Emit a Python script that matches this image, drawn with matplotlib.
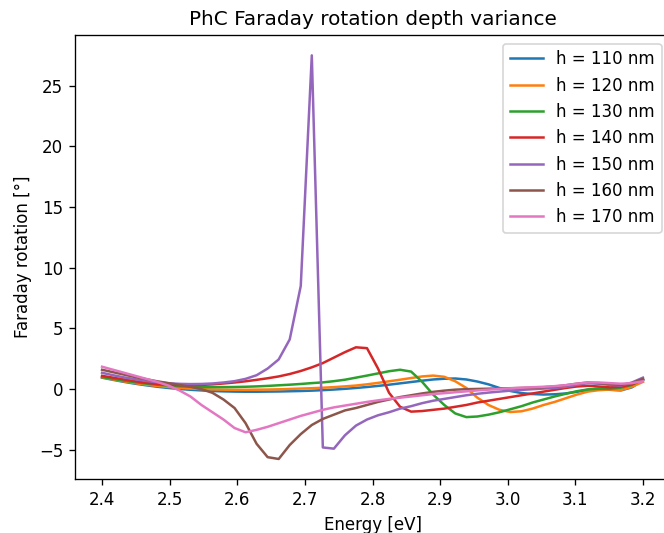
import numpy as np
import matplotlib
matplotlib.use("Agg")
import matplotlib.pyplot as plt

# photon energy grid (50 samples)
energy = np.linspace(2.4, 3.2, 50)

# Faraday rotation [deg] per slab depth
h110 = [0.95, 0.77, 0.60, 0.45, 0.32, 0.20, 0.10, 0.02, -0.05, -0.10,
        -0.15, -0.18, -0.20, -0.21, -0.21, -0.20, -0.19, -0.17, -0.15, -0.12,
        -0.08, -0.03, 0.03, 0.10, 0.18, 0.27, 0.37, 0.48, 0.59, 0.70,
        0.80, 0.86, 0.88, 0.80, 0.63, 0.40, 0.10, -0.15, -0.32, -0.40,
        -0.44, -0.42, -0.35, -0.22, -0.05, 0.05, -0.05, -0.10, 0.15, 0.75]
h120 = [0.98, 0.80, 0.64, 0.50, 0.37, 0.27, 0.18, 0.11, 0.05, 0.01,
        -0.02, -0.04, -0.05, -0.05, -0.04, -0.03, -0.01, 0.02, 0.05, 0.08,
        0.12, 0.17, 0.23, 0.30, 0.40, 0.52, 0.65, 0.78, 0.92, 1.05,
        1.12, 1.02, 0.65, 0.10, -0.70, -1.30, -1.70, -1.88, -1.82, -1.60,
        -1.30, -1.05, -0.75, -0.45, -0.20, -0.08, -0.03, -0.08, 0.20, 0.60]
h130 = [1.00, 0.85, 0.70, 0.57, 0.46, 0.37, 0.30, 0.24, 0.20, 0.18,
        0.17, 0.17, 0.18, 0.20, 0.23, 0.27, 0.32, 0.37, 0.43, 0.50,
        0.56, 0.66, 0.78, 0.95, 1.12, 1.30, 1.48, 1.60, 1.45, 0.60,
        -0.45, -1.30, -2.00, -2.30, -2.25, -2.10, -1.90, -1.65, -1.40, -1.10,
        -0.85, -0.60, -0.38, -0.17, -0.02, 0.03, 0.03, 0.12, 0.35, 0.80]
h140 = [1.10, 0.95, 0.80, 0.65, 0.52, 0.42, 0.36, 0.33, 0.33, 0.35,
        0.40, 0.47, 0.55, 0.65, 0.77, 0.90, 1.05, 1.25, 1.50, 1.80,
        2.15, 2.60, 3.05, 3.45, 3.38, 1.70, -0.30, -1.45, -1.85, -1.80,
        -1.70, -1.60, -1.45, -1.30, -1.10, -0.95, -0.80, -0.65, -0.50, -0.35,
        -0.20, -0.05, 0.10, 0.22, 0.28, 0.22, 0.15, 0.20, 0.40, 0.80]
h150 = [1.35, 1.15, 0.97, 0.82, 0.68, 0.57, 0.49, 0.44, 0.42, 0.43,
        0.47, 0.55, 0.66, 0.85, 1.15, 1.70, 2.45, 4.10, 8.50, 27.50,
        -4.80, -4.90, -3.80, -3.00, -2.50, -2.15, -1.90, -1.60, -1.40, -1.15,
        -0.95, -0.80, -0.65, -0.50, -0.38, -0.28, -0.20, -0.12, -0.06, 0.00,
        0.05, 0.10, 0.20, 0.35, 0.50, 0.45, 0.35, 0.30, 0.55, 0.95]
h160 = [1.60, 1.40, 1.20, 1.00, 0.82, 0.65, 0.50, 0.35, 0.20, 0.00,
        -0.30, -0.85, -1.55, -2.80, -4.50, -5.60, -5.75, -4.60, -3.70, -2.95,
        -2.45, -2.10, -1.75, -1.55, -1.30, -1.05, -0.85, -0.65, -0.50, -0.35,
        -0.22, -0.12, -0.04, 0.00, 0.02, 0.04, 0.06, 0.08, 0.10, 0.12,
        0.16, 0.22, 0.32, 0.45, 0.55, 0.50, 0.42, 0.35, 0.50, 0.85]
h170 = [1.85, 1.60, 1.35, 1.10, 0.85, 0.60, 0.30, -0.10, -0.60, -1.30,
        -1.90, -2.50, -3.20, -3.55, -3.35, -3.10, -2.80, -2.50, -2.20, -1.95,
        -1.70, -1.50, -1.35, -1.20, -1.05, -0.92, -0.80, -0.70, -0.60, -0.50,
        -0.40, -0.33, -0.25, -0.18, -0.10, -0.04, 0.02, 0.07, 0.12, 0.16,
        0.20, 0.25, 0.33, 0.45, 0.55, 0.55, 0.50, 0.45, 0.50, 0.65]

depths = [110, 120, 130, 140, 150, 160, 170]
series = [h110, h120, h130, h140, h150, h160, h170]

# reference was rendered at 120 dpi
fig = plt.figure(figsize=(664 / 120, 533 / 120), dpi=120)
ax = fig.add_axes([0.113, 0.101, 0.896, 0.833])

for h, rot in zip(depths, series):
    ax.plot(energy, rot, label=f"h = {h} nm")

ax.set_title("PhC Faraday rotation depth variance")
ax.set_xlabel("Energy [eV]")
ax.set_ylabel("Faraday rotation [°]")
ax.legend(loc="upper right")

fig.savefig("out.png", dpi=120)
